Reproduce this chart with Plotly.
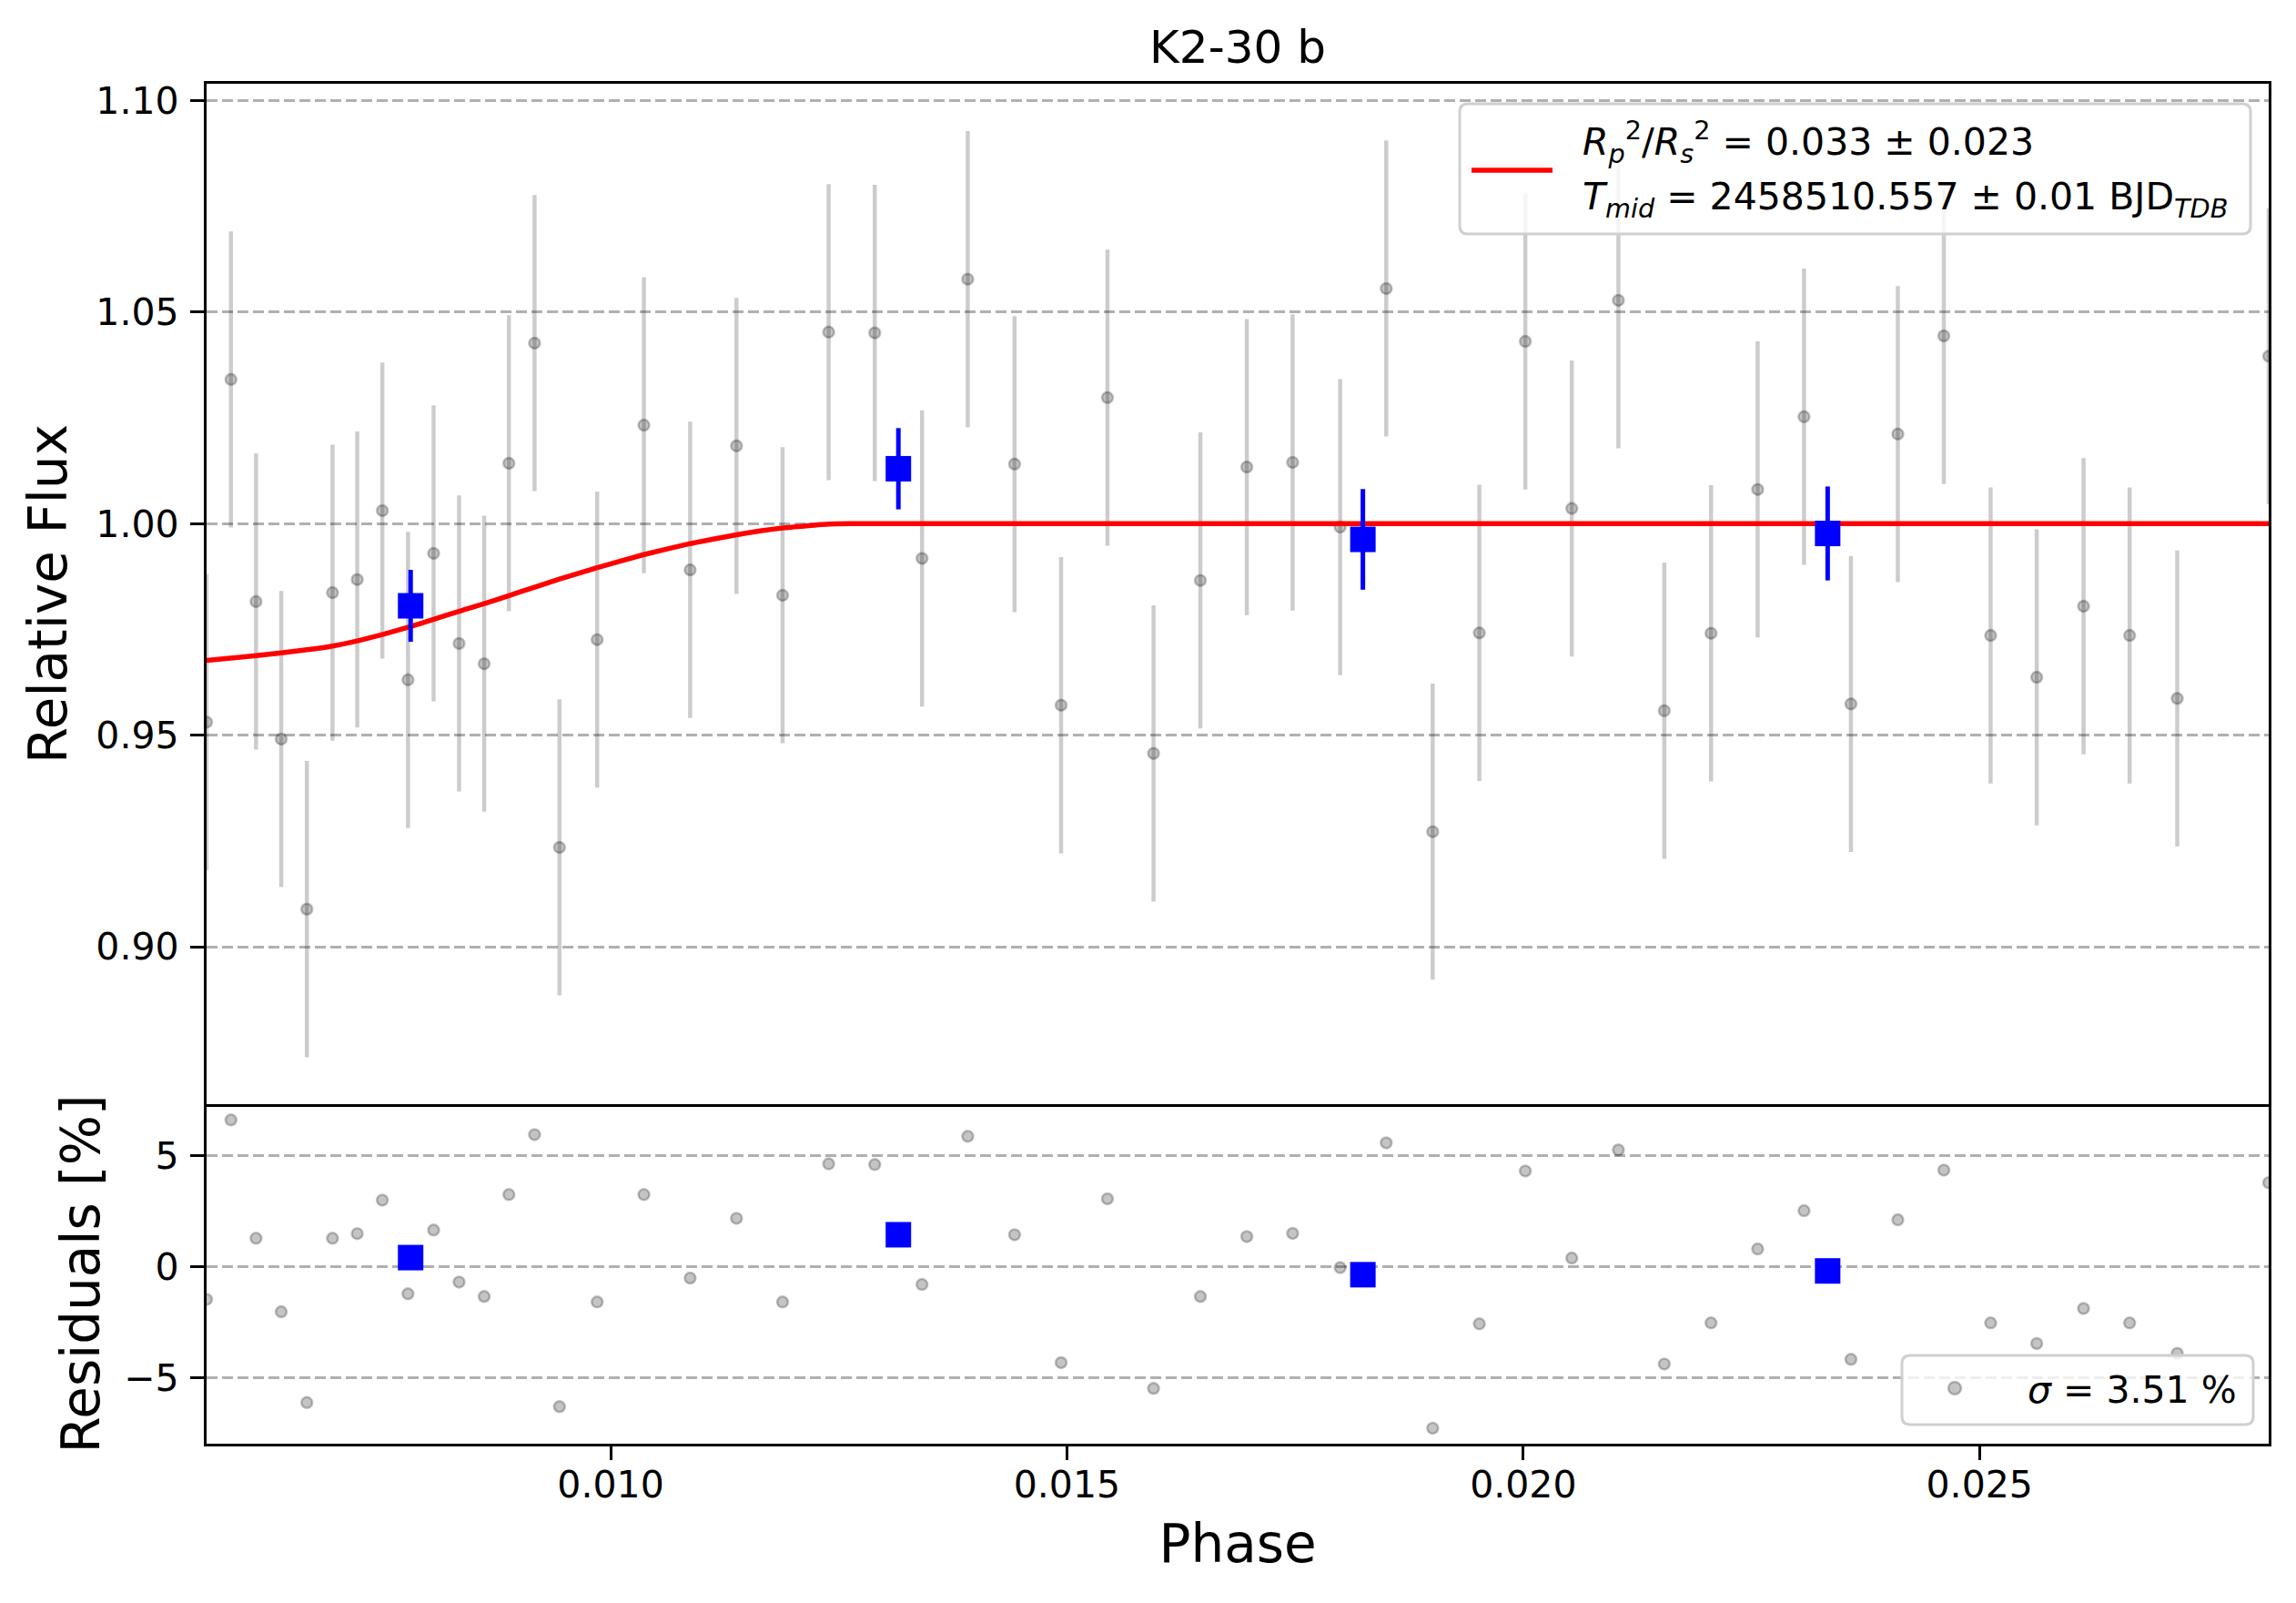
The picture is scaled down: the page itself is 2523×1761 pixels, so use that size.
import plotly.graph_objects as go

# unbinned light curve (phase, relative flux, residual in %)
phase = [0.005572, 0.005839, 0.006114, 0.006390, 0.006671, 0.006952, 0.007223, 0.007498,
         0.007779, 0.008060, 0.008339, 0.008614, 0.008885, 0.009166, 0.009439, 0.009852,
         0.010364, 0.010871, 0.011379, 0.011884, 0.012389, 0.012894, 0.013412, 0.013913,
         0.014426, 0.014936, 0.015444, 0.015949, 0.016462, 0.016971, 0.017473, 0.017994,
         0.018499, 0.019008, 0.019519, 0.020023, 0.020532, 0.021043, 0.021546, 0.022058,
         0.022569, 0.023077, 0.023591, 0.024105, 0.024609, 0.025122, 0.025627, 0.026140,
         0.026645, 0.027167, 0.028169]
flux = [0.9531, 1.0341, 0.9816, 0.9491, 0.9089, 0.9837, 0.9868, 1.0031, 0.9631, 0.9930,
        0.9717, 0.9669, 1.0143, 1.0427, 0.9235, 0.9726, 1.0233, 0.9891, 1.0184, 0.9831,
        1.0453, 1.0451, 0.9918, 1.0578, 1.0141, 0.9571, 1.0298, 0.9457, 0.9866, 1.0134,
        1.0145, 0.9992, 1.0556, 0.9272, 0.9742, 1.0431, 1.0036, 1.0528, 0.9558, 0.9741,
        1.0081, 1.0253, 0.9574, 1.0212, 1.0444, 0.9736, 0.9637, 0.9805, 0.9736, 0.9587,
        1.0396]
flux_err = [0.035] * len(phase)
resid = [-1.48, 6.60, 1.27, -2.04, -6.13, 1.27, 1.48, 2.99, -1.23, 1.64,
         -0.70, -1.35, 3.24, 5.94, -6.31, -1.60, 3.24, -0.52, 2.17, -1.60,
         4.62, 4.59, -0.81, 5.86, 1.43, -4.33, 3.05, -5.49, -1.35, 1.35,
         1.49, -0.05, 5.57, -7.28, -2.58, 4.30, 0.38, 5.25, -4.39, -2.54,
         0.79, 2.51, -4.18, 2.10, 4.34, -2.54, -3.47, -1.89, -2.54, -3.91,
         3.77]

# binned points
bin_phase = [0.007808, 0.013153, 0.018243, 0.023336]
bin_flux = [0.9806, 1.0130, 0.9963, 0.9977]
bin_err = [0.0085, 0.0096, 0.0119, 0.0111]
bin_resid = [0.40, 1.43, -0.37, -0.20]

# transit model
model_phase = [0.005572, 0.006114, 0.006671, 0.006952, 0.007223, 0.007498, 0.007779,
               0.008060, 0.008339, 0.008614, 0.008885, 0.009166, 0.009439, 0.009852,
               0.010364, 0.010871, 0.011379, 0.011884, 0.012389, 0.012614, 0.028169]
model_flux = [0.9677, 0.9688, 0.9702, 0.9711, 0.9723, 0.9738, 0.9755,
              0.9774, 0.9793, 0.9811, 0.9830, 0.9850, 0.9869, 0.9896,
              0.9927, 0.9953, 0.9974, 0.9990, 0.9999, 1.0000, 1.0000]

flux_ticks = [0.90, 0.95, 1.00, 1.05, 1.10]
flux_ticklabels = ["0.90", "0.95", "1.00", "1.05", "1.10"]
resid_ticks = [-5, 0, 5]
phase_ticks = [0.010, 0.015, 0.020, 0.025]
phase_ticklabels = ["0.010", "0.015", "0.020", "0.025"]

legend_line1 = ("<i>R</i><sub><i>p</i></sub><sup>2</sup>/<i>R</i><sub><i>s</i></sub><sup>2</sup>"
                " = 0.033 ± 0.023")
legend_line2 = "<i>T</i><sub><i>mid</i></sub> = 2458510.557 ± 0.01 BJD<sub><i>TDB</i></sub>"
legend_resid = "<i>σ</i> = 3.51 %"

FONT = "DejaVu Sans"
GRAY_BAR = "rgba(0,0,0,0.2)"
GRAY_PT = "rgba(0,0,0,0.23)"

# page offset of the plot (browser body margin) and plot area in screen pixels
PAGE = 8
L, R, T, B = 227, 2493, 92, 1586
W, H = 2523 - 2 * PAGE, 1761 - 2 * PAGE


def px(x):
    return (x - L) / (R - L)


def py(y):
    return (B - y) / (B - T)


def rounded_box(x0, y0, x1, y1, r=9):
    rx, ry = r / (R - L), r / (B - T)
    a, b, c, d = px(x0), py(y1), px(x1), py(y0)
    return (f"M{a + rx},{b} L{c - rx},{b} Q{c},{b} {c},{b + ry} L{c},{d - ry} Q{c},{d} {c - rx},{d} "
            f"L{a + rx},{d} Q{a},{d} {a},{d - ry} L{a},{b + ry} Q{a},{b} {a + rx},{b} Z")


fig = go.Figure()

# main panel
fig.add_trace(go.Scatter(
    x=phase, y=flux, mode="markers", showlegend=False,
    marker=dict(size=12, color=GRAY_PT, line=dict(color=GRAY_PT, width=2.5)),
    error_y=dict(type="data", array=flux_err, color=GRAY_BAR, thickness=4.5, width=0),
    xaxis="x", yaxis="y",
))
fig.add_trace(go.Scatter(
    x=model_phase, y=model_flux, mode="lines", showlegend=False,
    line=dict(color="red", width=5.5, shape="spline", smoothing=0.4),
    xaxis="x", yaxis="y",
))
fig.add_trace(go.Scatter(
    x=bin_phase, y=bin_flux, mode="markers", showlegend=False,
    marker=dict(symbol="square", size=28, color="blue"),
    error_y=dict(type="data", array=bin_err, color="blue", thickness=5, width=0),
    xaxis="x", yaxis="y",
))

# residual panel
fig.add_trace(go.Scatter(
    x=phase, y=resid, mode="markers", showlegend=False,
    marker=dict(size=12, color=GRAY_PT, line=dict(color=GRAY_PT, width=2.5)),
    xaxis="x2", yaxis="y2",
))
fig.add_trace(go.Scatter(
    x=bin_phase, y=bin_resid, mode="markers", showlegend=False,
    marker=dict(symbol="square", size=28, color="blue"),
    xaxis="x2", yaxis="y2",
))

tick_common = dict(
    ticks="outside", ticklen=15, tickwidth=3.3, tickcolor="black",
    tickfont=dict(family=FONT, size=41, color="black"),
    zeroline=False, automargin=False,
)
frame = dict(showline=True, linecolor="black", linewidth=3.3, mirror=True)
grid = dict(showgrid=True, gridcolor="#b0b0b0", gridwidth=3.3, griddash="12px,5px")

x_range = [0.005572, 0.028169]
split = (B - 1213) / (B - T)

# legends drawn by hand (matplotlib style, rounded frames)
legend_shapes = [
    dict(type="path", xref="paper", yref="paper", path=rounded_box(1604, 114, 2473, 257),
         fillcolor="rgba(255,255,255,0.8)", line=dict(color="#d0d0d0", width=3)),
    dict(type="line", xref="paper", yref="paper", x0=px(1617), x1=px(1706), y0=py(187), y1=py(187),
         line=dict(color="red", width=5.5)),
    dict(type="path", xref="paper", yref="paper", path=rounded_box(2090, 1489, 2476, 1565),
         fillcolor="rgba(255,255,255,0.8)", line=dict(color="#d0d0d0", width=3)),
    dict(type="circle", xref="paper", yref="paper", x0=px(2141), x1=px(2155), y0=py(1532), y1=py(1518),
         fillcolor=GRAY_PT, line=dict(color=GRAY_PT, width=2.5)),
]
legend_texts = [
    dict(text=legend_line1, x=px(1737), y=py(156), xref="paper", yref="paper",
         xanchor="left", yanchor="middle", showarrow=False, font=dict(family=FONT, size=41)),
    dict(text=legend_line2, x=px(1737), y=py(219), xref="paper", yref="paper",
         xanchor="left", yanchor="middle", showarrow=False, font=dict(family=FONT, size=41)),
    dict(text=legend_resid, x=px(2460), y=py(1527), xref="paper", yref="paper",
         xanchor="right", yanchor="middle", showarrow=False, font=dict(family=FONT, size=41)),
]

fig.update_layout(
    width=W, height=H,
    margin=dict(l=L - PAGE, r=W - (R - PAGE), t=T - PAGE, b=H - (B - PAGE)),
    plot_bgcolor="white", paper_bgcolor="white",
    font=dict(family=FONT, color="black"),
    showlegend=False,
    title=dict(text="K2-30 b", x=0.5, xref="paper", y=1 - (51 - PAGE) / H, yref="container",
               xanchor="center", yanchor="middle", font=dict(family=FONT, size=50)),
    xaxis=dict(domain=[0, 1], anchor="y", range=x_range, showticklabels=False,
               showgrid=False, ticks="", zeroline=False, **frame),
    yaxis=dict(domain=[split, 1], anchor="x", range=[0.8628, 1.1040],
               tickvals=flux_ticks, ticktext=flux_ticklabels, ticklabelstandoff=4,
               title=dict(text="Relative Flux", font=dict(family=FONT, size=58), standoff=14),
               **tick_common, **frame, **grid),
    xaxis2=dict(domain=[0, 1], anchor="y2", range=x_range, matches="x",
                tickvals=phase_ticks, ticktext=phase_ticklabels, showgrid=False,
                ticklabelstandoff=-8, showline=True, linecolor="black", linewidth=3.3, mirror=False,
                title=dict(text="Phase", font=dict(family=FONT, size=58), standoff=22),
                **tick_common),
    yaxis2=dict(domain=[0, split], anchor="x2", range=[-7.98, 7.31],
                tickvals=resid_ticks, ticklabelstandoff=4,
                title=dict(text="Residuals [%]", font=dict(family=FONT, size=58), standoff=8),
                **tick_common, **frame, **grid),
    shapes=legend_shapes,
    annotations=legend_texts,
)

fig.write_html("out.html")
